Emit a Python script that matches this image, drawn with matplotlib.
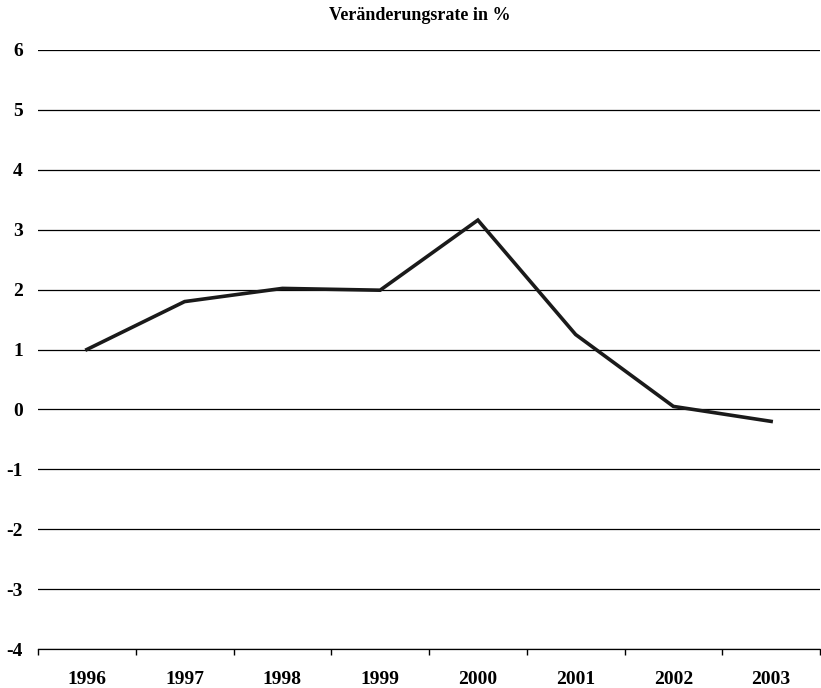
import numpy as np
import matplotlib
matplotlib.use('Agg')
import matplotlib.pyplot as plt

# data
years = ['1996', '1997', '1998', '1999', '2000', '2001', '2002', '2003']
rate = [1.0, 1.8, 2.02, 1.99, 3.16, 1.25, 0.05, -0.2]
yticks = [-4, -3, -2, -1, 0, 1, 2, 3, 4, 5, 6]

plt.rcParams['font.family'] = ['Liberation Serif', 'DejaVu Serif']
plt.rcParams['font.weight'] = 'bold'

# initialize figure
fig = plt.figure(figsize=(8.21, 6.88), dpi=100)
ax = fig.add_axes([38/821, 1-649/688, 782/821, 599/688])

# grid lines
for v in yticks:
    ax.axhline(v, color='black', lw=0.9, zorder=1)

# plot series
x = np.arange(len(years))
ax.plot(x, rate, color='#1a1a1a', lw=2.6, solid_joinstyle='miter', zorder=3)

# set axes properties
ax.set_xlim(-0.5, len(years)-0.5)
ax.set_ylim(-4, 6)
ax.set_yticks(yticks)
ax.set_yticklabels([str(v) for v in yticks], fontsize=14, fontweight='bold')
ax.tick_params(axis='y', length=0, pad=11)

ax.set_xticks(x)
ax.set_xticklabels(years, fontsize=14, fontweight='bold')
ax.set_xticks(np.arange(len(years)+1)-0.5, minor=True)
ax.tick_params(axis='x', which='major', length=0, pad=16)
ax.tick_params(axis='x', which='minor', length=4, width=1, direction='out')

for s in ['left', 'right', 'top']:
    ax.spines[s].set_visible(False)
ax.spines['bottom'].set_linewidth(0.9)

fig.text(420/821, 1-15/688, 'Veränderungsrate in %', ha='center', va='center',
         fontsize=13, fontweight='bold')

# save
fig.savefig('out.png', dpi=100)
